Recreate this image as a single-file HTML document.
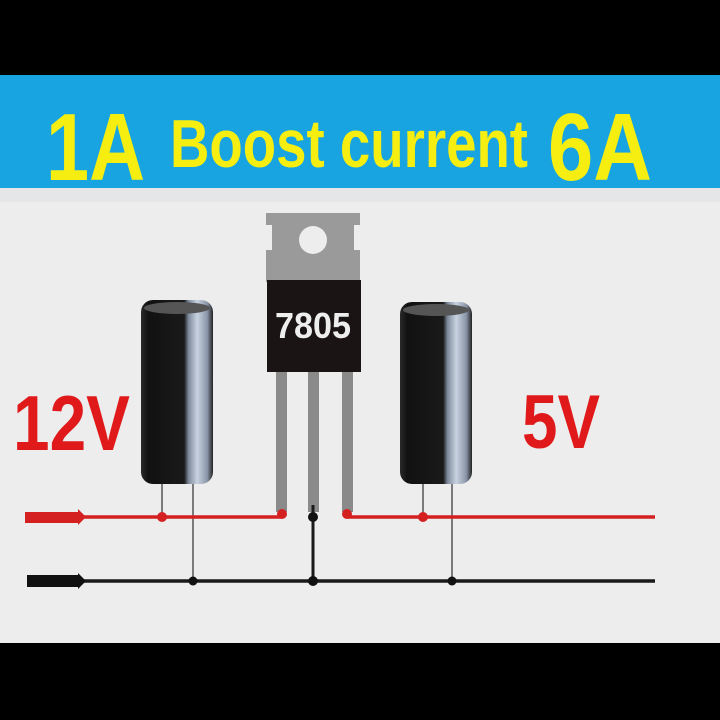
<!DOCTYPE html>
<html><head><meta charset="utf-8"><style>html,body{margin:0;padding:0;background:#000}svg{display:block}</style></head>
<body>
<svg width="720" height="720" viewBox="0 0 720 720" xmlns="http://www.w3.org/2000/svg">
<defs>
<linearGradient id="cap" x1="0" x2="1" y1="0" y2="0">
<stop offset="0" stop-color="#2a2a2a"/><stop offset="0.1" stop-color="#111"/><stop offset="0.6" stop-color="#1a1a1a"/>
<stop offset="0.66" stop-color="#7e8a9c"/><stop offset="0.78" stop-color="#c8d2e0"/><stop offset="0.92" stop-color="#8a96a8"/><stop offset="1" stop-color="#222"/>
</linearGradient>
</defs>
<rect width="720" height="720" fill="#000"/>
<rect x="0" y="75" width="720" height="113" fill="#18a4e0"/>
<rect x="0" y="188" width="720" height="455" fill="#ededed"/>
<rect x="0" y="188" width="720" height="14" fill="#e4e6e8"/>
<g font-family="Liberation Sans, Arial, sans-serif" font-weight="bold" fill="#f5ee10">
<text x="46" y="180" font-size="96" textLength="99" lengthAdjust="spacingAndGlyphs">1A</text>
<text x="170" y="167" font-size="68" textLength="358" lengthAdjust="spacingAndGlyphs">Boost current</text>
<text x="548" y="180" font-size="96" textLength="104" lengthAdjust="spacingAndGlyphs">6A</text>
</g>
<g font-family="Liberation Sans, Arial, sans-serif" font-weight="bold" fill="#e01a1a">
<text x="13" y="450" font-size="78" textLength="117" lengthAdjust="spacingAndGlyphs">12V</text>
<text x="522" y="448" font-size="76" textLength="78" lengthAdjust="spacingAndGlyphs">5V</text>
</g>
<!-- wires -->
<g stroke="#555" stroke-width="1.5">
<line x1="162" y1="484" x2="162" y2="517"/><line x1="193" y1="484" x2="193" y2="581"/>
<line x1="423" y1="484" x2="423" y2="517"/><line x1="452" y1="484" x2="452" y2="581"/>
</g>
<line x1="80" y1="517" x2="282" y2="517" stroke="#d42020" stroke-width="3.5"/>
<line x1="347" y1="517" x2="655" y2="517" stroke="#d42020" stroke-width="3.5"/>
<line x1="80" y1="581" x2="655" y2="581" stroke="#1a1a1a" stroke-width="3.5"/>
<rect x="25" y="512" width="55" height="11" fill="#d42020"/>
<polygon points="78,509 86,517 78,525" fill="#d42020"/>
<rect x="27" y="575" width="53" height="12" fill="#111"/>
<polygon points="78,573 86,581 78,589" fill="#111"/>
<!-- transistor -->
<rect x="266" y="213" width="94" height="12" fill="#9a9a9a"/>
<rect x="272" y="225" width="82" height="25" fill="#9a9a9a"/>
<rect x="266" y="250" width="94" height="32" fill="#9a9a9a"/>
<circle cx="313" cy="240" r="14" fill="#ededed"/>
<rect x="267" y="280" width="94" height="92" fill="#1a1414"/>
<text x="313" y="338" font-family="Liberation Sans, Arial, sans-serif" font-weight="bold" font-size="36" fill="#eee" text-anchor="middle" textLength="76" lengthAdjust="spacingAndGlyphs">7805</text>
<g fill="#8a8a8a">
<rect x="276" y="372" width="11" height="140"/><rect x="308" y="372" width="11" height="140"/><rect x="342" y="372" width="11" height="140"/>
</g>
<line x1="313" y1="505" x2="313" y2="581" stroke="#1a1a1a" stroke-width="3"/>
<g fill="#d42020"><circle cx="282" cy="514" r="5"/><circle cx="347" cy="514" r="5"/><circle cx="162" cy="517" r="5"/><circle cx="423" cy="517" r="5"/></g>
<g fill="#111"><circle cx="313" cy="517" r="5"/><circle cx="313" cy="581" r="5"/><circle cx="193" cy="581" r="4.5"/><circle cx="452" cy="581" r="4.5"/></g>
<!-- caps -->
<rect x="141" y="300" width="72" height="184" rx="12" fill="url(#cap)"/>
<ellipse cx="177" cy="308" rx="33" ry="6" fill="#555"/>
<rect x="400" y="302" width="72" height="182" rx="12" fill="url(#cap)"/>
<ellipse cx="436" cy="310" rx="33" ry="6" fill="#555"/>
</svg>
</body></html>
